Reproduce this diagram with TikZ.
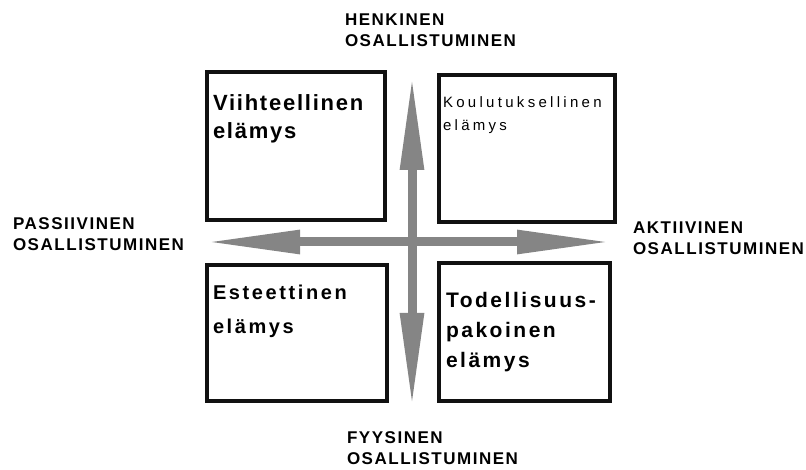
\documentclass[tikz,border=0pt]{standalone}
\usepackage{fontspec}
\setmainfont{Liberation Sans}
\usetikzlibrary{arrows.meta}
\definecolor{axis-grey}{HTML}{858585}
\definecolor{frame-black}{HTML}{111111}

\begin{document}
\begin{tikzpicture}[x=1pt, y=-1pt,
    every node/.style={inner sep=0pt, outer sep=0pt},
    box/.style={draw=frame-black, line width=4pt},
    axislabel/.style={anchor=north west, align=left,
      font=\fontsize{17}{21}\selectfont\bfseries\addfontfeatures{LetterSpace=9}},
    boxtext/.style={anchor=north west, align=left},
    axisarrow/.style={axis-grey, line width=9pt,
      {Triangle[length=95pt, width=22pt]}-{Triangle[length=95pt, width=22pt]}}]
    \useasboundingbox (0,0) rectangle (806,470);

    % the four boxes
    \node[box, minimum width=178pt, minimum height=148pt] (fun) at (296, 146) {};
    \node[box, minimum width=176pt, minimum height=147pt] (edu) at (527, 148.5) {};
    \node[box, minimum width=180pt, minimum height=136pt] (est) at (297, 333) {};
    \node[box, minimum width=171pt, minimum height=138pt] (esc) at (524.5, 332) {};

    \node[boxtext, font=\fontsize{22}{28}\selectfont\bfseries\addfontfeatures{LetterSpace=8}]
      (funtext) at (213, 95) {Viihteellinen\\elämys};
    \node[boxtext, font=\fontsize{15}{23}\selectfont\addfontfeatures{LetterSpace=22}]
      (edutext) at (443, 97) {Koulutuksellinen\\elämys};
    \node[boxtext, font=\fontsize{20}{34}\selectfont\bfseries\addfontfeatures{LetterSpace=13}]
      (esttext) at (213, 285) {Esteettinen\\elämys};
    \node[boxtext, font=\fontsize{21}{30}\selectfont\bfseries\addfontfeatures{LetterSpace=12}]
      (esctext) at (446, 292) {Todellisuus-\\pakoinen\\elämys};

    % axes
    \coordinate (west) at (205, 242);
    \coordinate (east) at (612, 242);
    \coordinate (north) at (412, 75);
    \coordinate (south) at (412, 408);
    \draw[axisarrow] (west) -- (east);
    \draw[axisarrow] (south) -- (north);

    \node[axislabel] (mental) at (345, 14) {HENKINEN\\OSALLISTUMINEN};
    \node[axislabel] (passive) at (13, 218) {PASSIIVINEN\\OSALLISTUMINEN};
    \node[axislabel] (active) at (633, 222) {AKTIIVINEN\\OSALLISTUMINEN};
    \node[axislabel] (physical) at (347, 432) {FYYSINEN\\OSALLISTUMINEN};
  \end{tikzpicture}
\end{document}
